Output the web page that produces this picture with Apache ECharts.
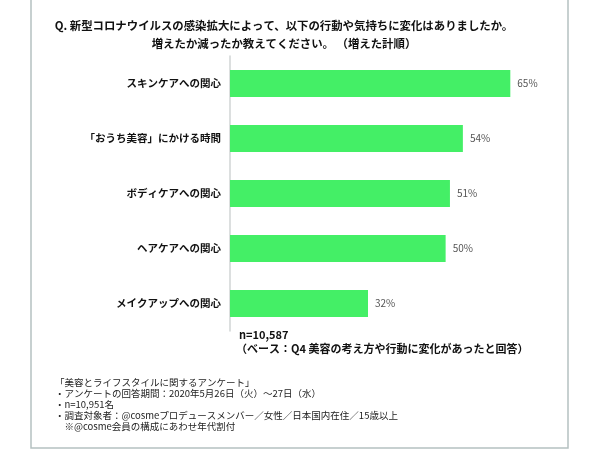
<!DOCTYPE html>
<html>
<head>
<meta charset="utf-8">
<script src="https://cdn.jsdelivr.net/npm/echarts@6/dist/echarts.min.js"></script>
<style>
  html, body { margin: 0; padding: 0; background: #fff; }
  #chart { width: 600px; height: 450px; }
</style>
</head>
<body>
<div id="chart"></div>
<script>
// データ
const categories = ['スキンケアへの関心', '「おうち美容」にかける時間', 'ボディケアへの関心', 'ヘアケアへの関心', 'メイクアップへの関心'];
const values = [65, 54, 51, 50, 32];

const titleLines = [
	'Q. 新型コロナウイルスの感染拡大によって、以下の行動や気持ちに変化はありましたか。',
	'増えたか減ったか教えてください。 （増えた計順）'
];
const baseLines = ['n=10,587', '（ベース：Q4 美容の考え方や行動に変化があったと回答）'];
const footerLines = [
	'「美容とライフスタイルに関するアンケート」',
	'・アンケートの回答期間：2020年5月26日（火）～27日（水）',
	'・n=10,951名',
	'・調査対象者：@cosmeプロデュースメンバー／女性／日本国内在住／15歳以上',
	'　※@cosme会員の構成にあわせ年代割付'
];

const FONT = '"Noto Sans CJK JP", "Noto Sans", sans-serif';
const chart = echarts.init(document.getElementById('chart'));

const graphics = [
	{
		type: 'rect',
		shape: { x: 31, y: -5, width: 537, height: 453 },
		style: { fill: 'none', stroke: '#b5c1c1', lineWidth: 1.5 },
		silent: true
	}
];
titleLines.forEach((t, i) => {
	graphics.push({
		type: 'text', x: 284, y: 26 + i * 18,
		style: { text: t, fill: '#111', font: 'bold 11.4px ' + FONT, textAlign: 'center', textVerticalAlign: 'middle' }
	});
});
baseLines.forEach((t, i) => {
	graphics.push({
		type: 'text', x: i === 0 ? 239 : 236, y: 335 + i * 14,
		style: { text: t, fill: '#111', font: 'bold 11px ' + FONT, textVerticalAlign: 'middle' }
	});
});
footerLines.forEach((t, i) => {
	graphics.push({
		type: 'text', x: 55, y: 382 + i * 11,
		style: { text: t, fill: '#222', font: '9.5px ' + FONT, textVerticalAlign: 'middle' }
	});
});

chart.setOption({
	animation: false,
	backgroundColor: '#fff',
	textStyle: { fontFamily: FONT },
	grid: { left: 230, top: 56, height: 275, right: 25 },
	xAxis: {
		type: 'value', min: 0, max: 80,
		show: false
	},
	yAxis: {
		type: 'category',
		inverse: true,
		data: categories,
		axisLine: { lineStyle: { color: '#d0d4d4', width: 1.5 } },
		axisTick: { show: false },
		axisLabel: { color: '#111', fontWeight: 'bold', fontSize: 10.5, margin: 9 }
	},
	series: [{
		type: 'bar',
		data: values,
		barWidth: 27,
		itemStyle: { color: '#44ef66' },
		label: {
			show: true, position: 'right', distance: 7,
			formatter: '{c}%', color: '#555', fontSize: 10
		}
	}],
	graphic: graphics
});
</script>
</body>
</html>
